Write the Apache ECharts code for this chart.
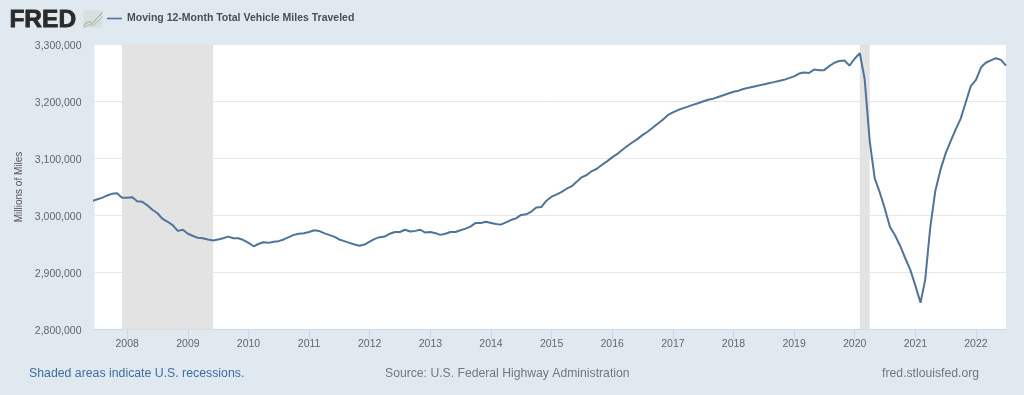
<!DOCTYPE html>
<html><head><meta charset="utf-8">
<style>html,body{margin:0;padding:0;background:#e1e9f0}#c{width:1024px;height:395px}</style>
<script src="https://cdn.jsdelivr.net/npm/echarts@6/dist/echarts.min.js"></script>
</head><body><div id="c"></div>
<script>
const seriesName='Moving 12-Month Total Vehicle Miles Traveled';
const startYear=2007, startMonth=5; // first value is June 2007
const v2007=[3025,3028,3031,3035,3038,3039,3031];
const v2008=[3031,3032,3025,3024,3018,3010,3004,2994,2989,2983,2973,2975];
const v2009=[2968,2964,2961,2960,2958,2956,2958,2960,2963,2960,2960,2957];
const v2010=[2952,2946,2950,2953,2952,2954,2955,2958,2962,2966,2968,2969];
const v2011=[2971,2974,2973,2969,2966,2963,2958,2955,2952,2949,2947,2949];
const v2012=[2954,2959,2962,2963,2968,2971,2971,2975,2972,2973,2975,2970];
const v2013=[2971,2969,2966,2968,2971,2971,2974,2977,2981,2987,2987,2989];
const v2014=[2987,2985,2984,2988,2992,2995,3001,3002,3007,3014,3015,3026];
const v2015=[3033,3037,3041,3047,3051,3059,3067,3071,3078,3082,3089,3095];
const v2016=[3102,3108,3115,3122,3128,3134,3141,3147,3154,3161,3168,3176];
const v2017=[3181,3185,3188,3191,3194,3197,3200,3203,3205,3208,3211,3214];
const v2018=[3217,3219,3222,3224,3226,3228,3230,3232,3234,3236,3238,3241];
const v2019=[3244,3249,3251,3250,3256,3255,3255,3262,3268,3271,3272,3263];
const v2020=[3275,3285,3240,3130,3065,3040,3012,2980,2965,2947,2925,2905];
const v2021=[2877,2847,2887,2980,3043,3080,3108,3130,3151,3170,3199,3227];
const v2022=[3238,3260,3268,3272,3276,3273,3263];
const values=[...v2007,...v2008,...v2009,...v2010,...v2011,...v2012,...v2013,...v2014,...v2015,...v2016,...v2017,...v2018,...v2019,...v2020,...v2021,...v2022];
const yearTicks=[2008,2009,2010,2011,2012,2013,2014,2015,2016,2017,2018,2019,2020,2021,2022];
const recessions=[['2007-12-01','2009-06-01'],['2020-02-01','2020-04-01']];
const axisMin='2007-06-18', axisMax='2022-07-01';
const yMin=2800000,yMax=3300000,yStep=100000;

const pts=values.map((v,i)=>[Date.UTC(startYear,startMonth+i,1),v*1000]);
const yearMs=yearTicks.map(y=>Date.UTC(y,0,1));
const toMs=s=>new Date(s+'T00:00:00Z').getTime();
const chart=echarts.init(document.getElementById('c'),null,{renderer:'canvas'});
chart.setOption({
 animation:false,
 backgroundColor:'#e1e9f0',
 textStyle:{fontFamily:'"Liberation Sans",Arial,sans-serif'},
 grid:{left:94.5,right:18,top:44.5,bottom:65.5,containLabel:false,backgroundColor:'#fff',show:true,borderWidth:0},
 legend:{show:true,left:102,top:8,itemWidth:15,itemHeight:10,itemGap:4,
  textStyle:{color:'#4b4f55',fontSize:10.5,fontWeight:'bold',fontFamily:'"Liberation Sans",Arial,sans-serif'},
  data:[{name:seriesName,icon:'path://M0 4.2H15V5.8H0Z'}]},
 xAxis:{type:'value',min:toMs(axisMin),max:toMs(axisMax),scale:true,
  axisLine:{show:true,lineStyle:{color:'#ccd6eb',width:1}},
  axisTick:{show:true,length:10,lineStyle:{color:'#ccd6eb'},customValues:yearMs},
  splitLine:{show:false},
  axisLabel:{color:'#666',fontSize:10.5,margin:9,customValues:yearMs,hideOverlap:false,showMinLabel:true,showMaxLabel:true,
   formatter:(v)=>String(new Date(v).getUTCFullYear())}},
 yAxis:{type:'value',min:yMin,max:yMax,interval:yStep,
  name:'Millions of Miles',nameLocation:'middle',nameRotate:90,nameGap:70,
  nameTextStyle:{color:'#555',fontSize:10},
  axisLine:{show:false},axisTick:{show:false},
  splitLine:{show:true,lineStyle:{color:'#e6e6e6',width:1}},
  axisLabel:{color:'#666',fontSize:10.5,margin:13,
   rich:{a:{color:'#666',fontSize:10.5,padding:[3,0,0,0]}},
   formatter:(v)=>'{a|'+v.toLocaleString('en-US')+'}'}},
 series:[{name:seriesName,type:'line',data:pts,showSymbol:false,symbol:'none',smooth:false,clip:true,
  lineStyle:{color:'#4f7499',width:2},itemStyle:{color:'#4f7499'},
  markArea:{silent:true,itemStyle:{color:'#e3e3e3',opacity:1},
   data:recessions.map(r=>[{xAxis:toMs(r[0])},{xAxis:toMs(r[1])}])}}],
 graphic:[
  {type:'text',left:9,top:7,style:{text:'FRED',fill:'#2a2a2a',font:'900 24.5px "Liberation Sans",Arial,sans-serif',stroke:'#2a2a2a',lineWidth:0.8}},
  {type:'group',left:81,top:10,children:[
   {type:'rect',shape:{x:0,y:0,width:19,height:17},style:{fill:'#d8dfdf'}},
   {type:'polyline',shape:{points:[[0,15],[5,11],[9,13],[14,7],[19,2]]},style:{stroke:'#8fa88f',lineWidth:1,fill:null}},
   {type:'polyline',shape:{points:[[0,17],[6,14],[10,15],[15,10],[19,6]]},style:{stroke:'#a9b9a9',lineWidth:1,fill:null}}
  ]},
  {type:'text',left:29,top:368,style:{text:'Shaded areas indicate U.S. recessions.',fill:'#3f6da3',font:'12.3px "Liberation Sans",Arial,sans-serif'}},
  {type:'text',left:385,top:368,style:{text:'Source: U.S. Federal Highway Administration',fill:'#777',font:'12.2px "Liberation Sans",Arial,sans-serif'}},
  {type:'text',right:45,top:368,style:{text:'fred.stlouisfed.org',fill:'#777',font:'12.2px "Liberation Sans",Arial,sans-serif'}}
 ]
});
</script></body></html>
